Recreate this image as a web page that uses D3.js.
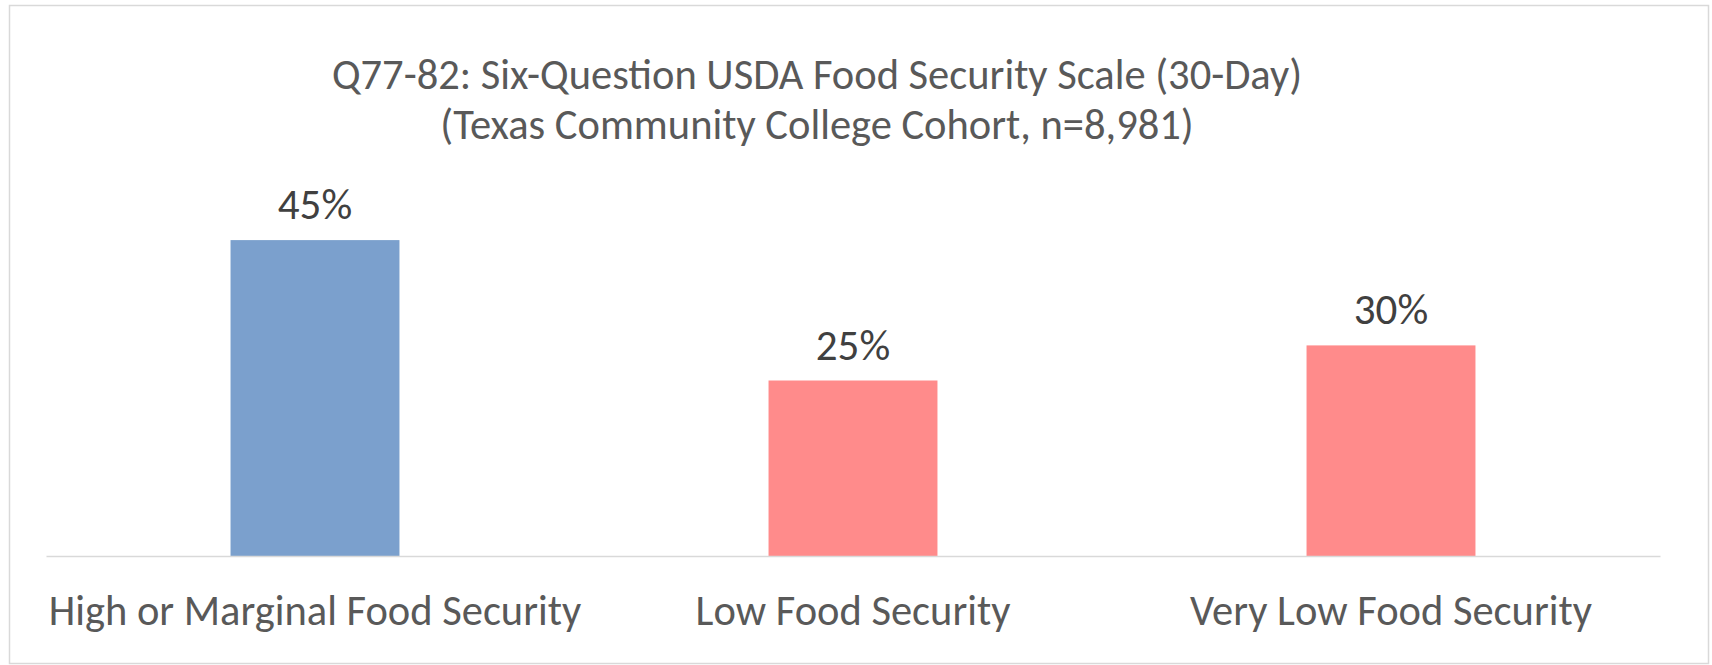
<!DOCTYPE html>
<html>
<head>
<meta charset="utf-8">
<script src="https://cdn.jsdelivr.net/npm/d3@7"></script>
<style>
  html, body { margin: 0; padding: 0; background: #ffffff; }
  svg { display: block; }
  text { font-family: Carlito, Calibri, Lato, "Open Sans", sans-serif; }
</style>
</head>
<body>
<svg id="chart" width="1712" height="665"></svg>
<script>
// Food security categories and the share of respondents in each
const categories = ["High or Marginal Food Security", "Low Food Security", "Very Low Food Security"];
const percents = [45, 25, 30];
const barColors = ["#7ba0cd", "#ff8b8b", "#ff8b8b"];
const titleLines = [
  "Q77-82: Six-Question USDA Food Security Scale (30-Day)",
  "(Texas Community College Cohort, n=8,981)"
];

const W = 1712, H = 665;
const svg = d3.select("#chart");

// outer chart frame
svg.append("rect")
  .attr("x", 9.5).attr("y", 5.5)
  .attr("width", 1699).attr("height", 658)
  .attr("fill", "#ffffff")
  .attr("stroke", "#d9d9d9")
  .attr("stroke-width", 1.5);

const plot = { left: 46, right: 1660, top: 205, bottom: 556 };

const x = d3.scaleBand()
  .domain(categories)
  .range([plot.left, plot.right])
  .paddingInner(0.686)
  .paddingOuter(0.343);

const y = d3.scaleLinear()
  .domain([0, 50])
  .range([plot.bottom, plot.top]);

// two-line title
const title = svg.append("text")
  .attr("x", 817)
  .attr("y", 89)
  .attr("text-anchor", "middle")
  .attr("fill", "#595959")
  .attr("font-size", 42.5);
titleLines.forEach((line, i) => {
  title.append("tspan")
    .attr("x", 817)
    .attr("dy", i === 0 ? 0 : 50)
    .text(line);
});

// bars
svg.append("g")
  .selectAll("rect")
  .data(percents)
  .join("rect")
  .attr("x", (d, i) => x(categories[i]))
  .attr("y", d => y(d))
  .attr("width", x.bandwidth())
  .attr("height", d => y(0) - y(d))
  .attr("fill", (d, i) => barColors[i]);

// value labels above the bars
svg.append("g")
  .selectAll("text")
  .data(percents)
  .join("text")
  .attr("x", (d, i) => x(categories[i]) + x.bandwidth() / 2)
  .attr("y", d => y(d) - 21)
  .attr("text-anchor", "middle")
  .attr("fill", "#404040")
  .attr("font-size", 43)
  .text(d => d + "%");

// category axis
const xAxis = svg.append("g")
  .attr("transform", `translate(0,${plot.bottom})`)
  .call(d3.axisBottom(x).tickSize(0).tickSizeOuter(0));
xAxis.select(".domain")
  .attr("stroke", "#d9d9d9")
  .attr("stroke-width", 1.5);
xAxis.selectAll(".tick text")
  .attr("y", 69)
  .attr("dy", 0)
  .attr("fill", "#595959")
  .attr("font-size", 42.5)
  .style("font-family", "Carlito, Calibri, Lato, 'Open Sans', sans-serif");
</script>
</body>
</html>
